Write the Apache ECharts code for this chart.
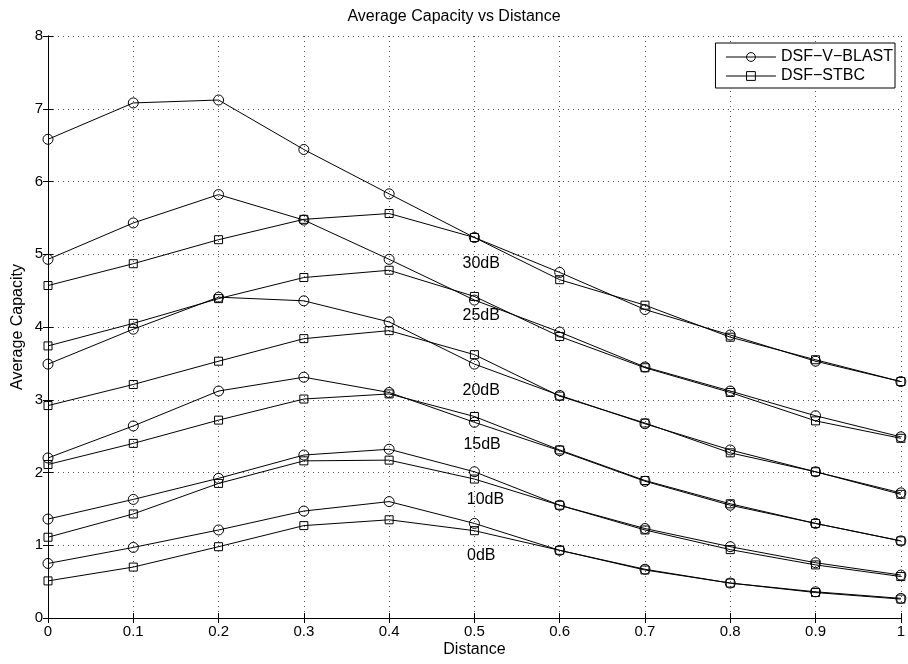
<!DOCTYPE html>
<html>
<head>
<meta charset="utf-8">
<script src="https://cdn.jsdelivr.net/npm/echarts@6/dist/echarts.min.js"></script>
<style>html,body{margin:0;padding:0;background:#fff}#c{width:908px;height:664px}</style>
</head>
<body>
<div id="c"></div>
<script>
// Data
const distance = [0, 0.1, 0.2, 0.3, 0.4, 0.5, 0.6, 0.7, 0.8, 0.9, 1];
const vblast30 = [6.58, 7.08, 7.12, 6.44, 5.83, 5.23, 4.75, 4.24, 3.89, 3.53, 3.25];
const stbc30   = [4.57, 4.87, 5.20, 5.48, 5.56, 5.23, 4.65, 4.30, 3.86, 3.55, 3.25];
const vblast25 = [4.93, 5.43, 5.82, 5.47, 4.93, 4.37, 3.93, 3.45, 3.12, 2.78, 2.49];
const stbc25   = [3.74, 4.05, 4.39, 4.68, 4.78, 4.42, 3.87, 3.44, 3.10, 2.71, 2.47];
const vblast20 = [3.49, 3.97, 4.41, 4.36, 4.07, 3.49, 3.06, 2.67, 2.31, 2.01, 1.72];
const stbc20   = [2.92, 3.21, 3.53, 3.84, 3.95, 3.62, 3.05, 2.68, 2.27, 2.01, 1.70];
const vblast15 = [2.20, 2.64, 3.12, 3.31, 3.10, 2.69, 2.30, 1.88, 1.55, 1.30, 1.06];
const stbc15   = [2.11, 2.40, 2.72, 3.01, 3.08, 2.77, 2.31, 1.89, 1.57, 1.30, 1.06];
const vblast10 = [1.36, 1.63, 1.92, 2.24, 2.32, 2.01, 1.55, 1.23, 0.98, 0.76, 0.59];
const stbc10   = [1.11, 1.43, 1.85, 2.16, 2.17, 1.91, 1.55, 1.21, 0.94, 0.73, 0.57];
const vblast0  = [0.75, 0.97, 1.21, 1.47, 1.60, 1.30, 0.93, 0.67, 0.48, 0.36, 0.27];
const stbc0    = [0.51, 0.70, 0.98, 1.27, 1.35, 1.20, 0.93, 0.66, 0.48, 0.35, 0.26];

const xTicks = [0, 0.1, 0.2, 0.3, 0.4, 0.5, 0.6, 0.7, 0.8, 0.9, 1];
const yTicks = [0, 1, 2, 3, 4, 5, 6, 7, 8];

const snrLabels = ['30dB', '25dB', '20dB', '15dB', '10dB', '0dB'];
const snrLabelX = [0.508, 0.508, 0.508, 0.509, 0.513, 0.508];
const snrLabelY = [4.87, 4.15, 3.13, 2.39, 1.63, 0.853];

const nameV = 'DSF\u2212V\u2212BLAST';
const nameS = 'DSF\u2212STBC';

const vSets = [vblast30, vblast25, vblast20, vblast15, vblast10, vblast0];
const sSets = [stbc30, stbc25, stbc20, stbc15, stbc10, stbc0];

const FONT = 'Liberation Sans, Arial, Helvetica, sans-serif';

function mkLine(name, arr, symbol, size) {
  return {
    name: name,
    type: 'line',
    xAxisIndex: 0, yAxisIndex: 0,
    data: distance.map((d, i) => [d, arr[i]]),
    symbol: symbol,
    symbolSize: size,
    showAllSymbol: true,
    lineStyle: { color: '#000', width: 1 },
    itemStyle: { color: 'rgba(255,255,255,0)', borderColor: '#000', borderWidth: 1 },
    emphasis: { disabled: true },
    z: 3
  };
}

const series = [];
for (let k = 0; k < vSets.length; k++) {
  series.push(mkLine(nameV, vSets[k], 'circle', 10));
  series.push(mkLine(nameS, sSets[k], 'rect', 8));
}
series.push({
  type: 'scatter',
  xAxisIndex: 0, yAxisIndex: 0,
  symbolSize: 0,
  silent: true,
  itemStyle: { opacity: 1, color: '#000' },
  data: snrLabels.map((t, i) => ({ name: t, value: [snrLabelX[i], snrLabelY[i]] })),
  label: {
    show: true, position: 'inside', formatter: '{b}', opacity: 1,
    fontFamily: FONT, fontSize: 16, color: '#000', textBorderWidth: 0
  },
  z: 5
});

const tickFmt = v => String(Number(v.toFixed(1)));

const axisCommon = {
  axisLine: { show: true, lineStyle: { color: '#000', width: 1 } },
  axisTick: { show: true, inside: true, length: 5, lineStyle: { color: '#000' } }
};

const option = {
  animation: false,
  backgroundColor: '#fff',
  title: {
    text: 'Average Capacity vs Distance',
    left: 'center', top: 9, padding: 0,
    textStyle: { fontFamily: FONT, fontSize: 16, fontWeight: 'normal', color: '#000' }
  },
  legend: {
    data: [nameV, nameS],
    orient: 'vertical',
    right: 13, top: 43,
    backgroundColor: '#fff',
    borderColor: '#000', borderWidth: 1,
    padding: [6, 2, 4, 10],
    itemWidth: 50, itemHeight: 11, itemGap: 3,
    lineStyle: { width: 1, color: '#000' },
    itemStyle: { color: 'rgba(255,255,255,0)', borderColor: '#000', borderWidth: 1 },
    textStyle: { fontFamily: FONT, fontSize: 16, color: '#000' },
    selectedMode: false,
    z: 10
  },
  grid: { left: 48, right: 5, top: 36, bottom: 46, containLabel: false },
  xAxis: [
    Object.assign({}, axisCommon, {
      type: 'value', min: 0, max: 1, interval: 0.1, position: 'bottom',
      name: 'Distance', nameLocation: 'middle', nameGap: 24, nameMoveOverlap: false,
      nameTextStyle: { fontFamily: FONT, fontSize: 16, color: '#000' },
      axisLabel: { fontFamily: FONT, fontSize: 15, color: '#000', margin: 6, formatter: tickFmt },
      splitLine: { show: true, lineStyle: { color: '#555', width: 1, type: [1, 4] } }
    }),
    Object.assign({}, axisCommon, {
      type: 'value', min: 0, max: 1, interval: 0.1, position: 'top',
      axisLabel: { show: false }, splitLine: { show: false }
    })
  ],
  yAxis: [
    Object.assign({}, axisCommon, {
      type: 'value', min: 0, max: 8, interval: 1, position: 'left',
      name: 'Average Capacity', nameLocation: 'middle', nameGap: 22, nameRotate: 90, nameMoveOverlap: false,
      nameTextStyle: { fontFamily: FONT, fontSize: 16, color: '#000' },
      axisLabel: { fontFamily: FONT, fontSize: 15, color: '#000', margin: 5 },
      splitLine: { show: true, lineStyle: { color: '#555', width: 1, type: [1, 4] } }
    }),
    Object.assign({}, axisCommon, {
      type: 'value', min: 0, max: 8, interval: 1, position: 'right',
      axisLabel: { show: false }, splitLine: { show: false }
    })
  ],
  series: series
};

const chart = echarts.init(document.getElementById('c'), null, { renderer: 'canvas' });
chart.setOption(option);
</script>
</body>
</html>
